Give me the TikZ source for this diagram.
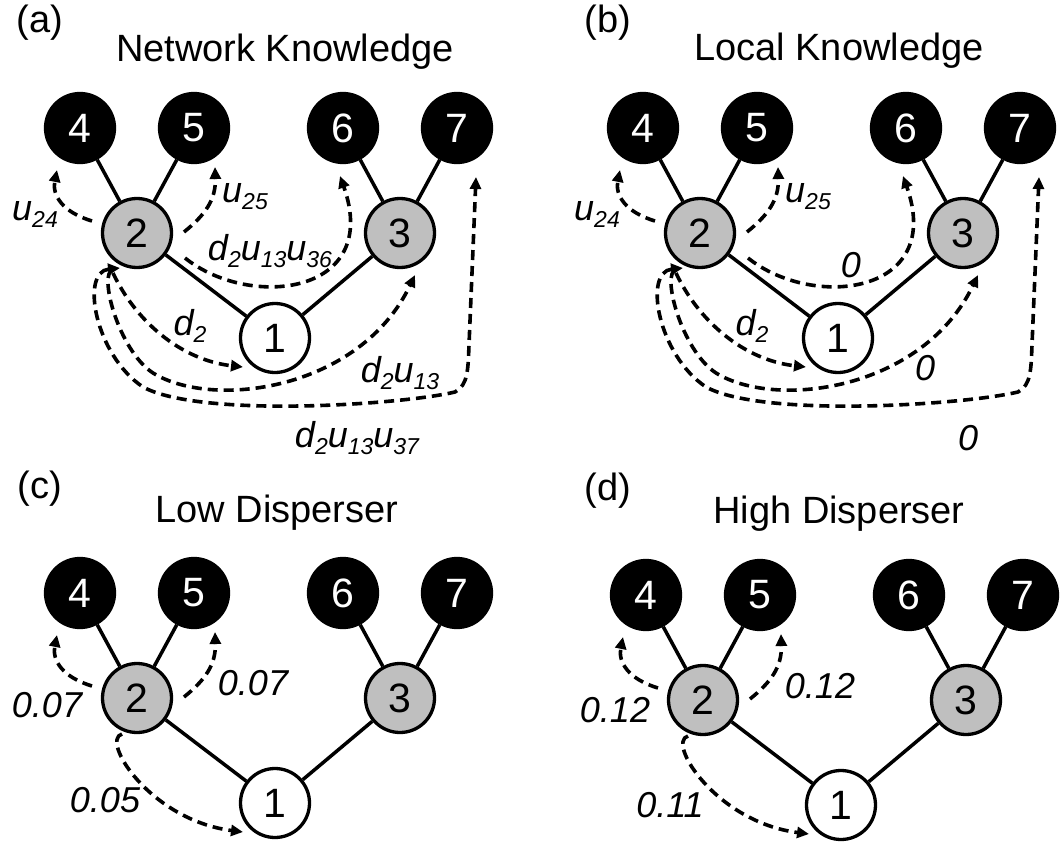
\documentclass[tikz,border=0pt]{standalone}
\usepackage{fontspec}
\setmainfont{Liberation Sans}
\usetikzlibrary{arrows.meta,calc}
\newcommand\sbs[1]{\raisebox{-7pt}{\fontsize{23}{23}\selectfont #1}}
\tikzset{
  nd/.style={circle,draw=black,line width=3.3pt,minimum size=69pt,inner sep=0pt,font=\fontsize{41}{41}\selectfont},
  leaf/.style={nd,fill=black,text=white},
  midn/.style={nd,fill=black!25},
  rootn/.style={nd,fill=white},
  edge/.style={line width=3.5pt},
  darr/.style={line width=3.6pt,dash pattern=on 10pt off 6pt,-{Triangle[length=12pt,width=11pt]}},
  darrb/.style={line width=3.6pt,dash pattern=on 10pt off 6pt,{Triangle[length=12pt,width=11pt]}-{Triangle[length=12pt,width=11pt]}},
  lab/.style={anchor=base,inner sep=0pt,font=\fontsize{36}{36}\selectfont\itshape},
  ttl/.style={anchor=base,inner sep=0pt,font=\fontsize{38}{38}\selectfont},
}
\newcommand\drawtree[3]{%
  \begin{scope}[shift={(#2,#3)}]
    \node[leaf] (#1-4) at (80,128) {4};
    \node[leaf] (#1-5) at (194,128) {5};
    \node[leaf] (#1-6) at (343,128) {6};
    \node[leaf] (#1-7) at (457,128) {7};
    \node[midn] (#1-2) at (137,233) {2};
    \node[midn] (#1-3) at (400,233) {3};
    \node[rootn] (#1-1) at (275,338) {1};
    \draw[edge] (#1-2) -- (#1-4);
    \draw[edge] (#1-2) -- (#1-5);
    \draw[edge] (#1-3) -- (#1-6);
    \draw[edge] (#1-3) -- (#1-7);
    \draw[edge] (#1-1) -- (#1-2);
    \draw[edge] (#1-1) -- (#1-3);
  \end{scope}}
\newcommand\sidearrows[1]{%
  \draw[darr] ([shift={(-45,-12)}]#1-2.center) .. controls +(-30,-9) and +(-5,25) .. ([shift={(-23,42)}]#1-4.center);
  \draw[darr] ([shift={(47,-1)}]#1-2.center) .. controls +(21,-17) and +(1,33) .. ([shift={(21,39)}]#1-5.center);}
\newcommand\longarrows[1]{%
  \draw[darr] ([shift={(48,25)}]#1-2.center) .. controls +(65,52) and +(42,119) .. ([shift={(-3,48)}]#1-6.center);
  \draw[darr] ([shift={(-24,40)}]#1-2.center) .. controls +(22,47) and +(-63,-7) .. ([shift={(-32,29)}]#1-1.center);
  \draw[darr] ([shift={(-24,37)}]#1-2.center) .. controls +(-15,2) and +(-35,-23) .. ([shift={(16,140)}]#1-2.center)
     .. controls +(60,37) and +(-55,115) .. ([shift={(15,42)}]#1-3.center);
  \draw[darrb] ([shift={(-17,35)}]#1-2.center) .. controls +(-40,4) and +(-48,-32) .. ([shift={(6,154)}]#1-2.center)
     .. controls +(57,31) and +(-55,13) .. ([shift={(-2,264)}]#1-7.center)
     .. controls +(13,-7) and +(-1,25) .. ([shift={(12,217)}]#1-7.center)
     -- ([shift={(19,49)}]#1-7.center);}
\newcommand\shortarrow[1]{%
  \draw[darr] ([shift={(-15,36)}]#1-2.center) .. controls +(-22,6) and +(-93,-12) .. ([shift={(-32,29)}]#1-1.center);}
\begin{document}
\begin{tikzpicture}[x=1pt,y=-1pt]
  \useasboundingbox (0,0) rectangle (1063,843);
  % panel a
  \node[ttl] (ta) at (40,33) {(a)};
  \node[ttl] (tta) at (285,62) {Network Knowledge};
  \drawtree{a}{0}{0}
  \sidearrows{a}
  \longarrows{a}
  \node[lab] (la24) at (35,220) {u\sbs{24}};
  \node[lab] (la25) at (245,202) {u\sbs{25}};
  \node[lab] (la36) at (270,260) {d\sbs{2}u\sbs{13}u\sbs{36}};
  \node[lab] (la1) at (190,335) {d\sbs{2}};
  \node[lab] (la3) at (400,382) {d\sbs{2}u\sbs{13}};
  \node[lab] (la37) at (357,447) {d\sbs{2}u\sbs{13}u\sbs{37}};
  % panel b
  \node[ttl] (tb) at (608,33) {(b)};
  \node[ttl] (ttb) at (839,60) {Local Knowledge};
  \drawtree{b}{563}{0}
  \sidearrows{b}
  \longarrows{b}
  \node[lab] (lb24) at (597,220) {u\sbs{24}};
  \node[lab] (lb25) at (808,202) {u\sbs{25}};
  \node[lab] (lb36) at (851,277) {0};
  \node[lab] (lb1) at (752,335) {d\sbs{2}};
  \node[lab] (lb3) at (925,380) {0};
  \node[lab] (lb37) at (968,450) {0};
  % panel c
  \node[ttl] (tc) at (40,498) {(c)};
  \node[ttl] (ttc) at (277,522) {Low Disperser};
  \drawtree{c}{0}{465}
  \sidearrows{c}
  \shortarrow{c}
  \node[lab] (lc24) at (47,717) {0.07};
  \node[lab] (lc25) at (253,695) {0.07};
  \node[lab] (lc1) at (105,812) {0.05};
  % panel d
  \node[ttl] (td) at (608,500) {(d)};
  \node[ttl] (ttd) at (839,523) {High Disperser};
  \drawtree{d}{566}{467}
  \sidearrows{d}
  \shortarrow{d}
  \node[lab] (ld24) at (615,722) {0.12};
  \node[lab] (ld25) at (820,698) {0.12};
  \node[lab] (ld1) at (670,817) {0.11};
\end{tikzpicture}
\end{document}
